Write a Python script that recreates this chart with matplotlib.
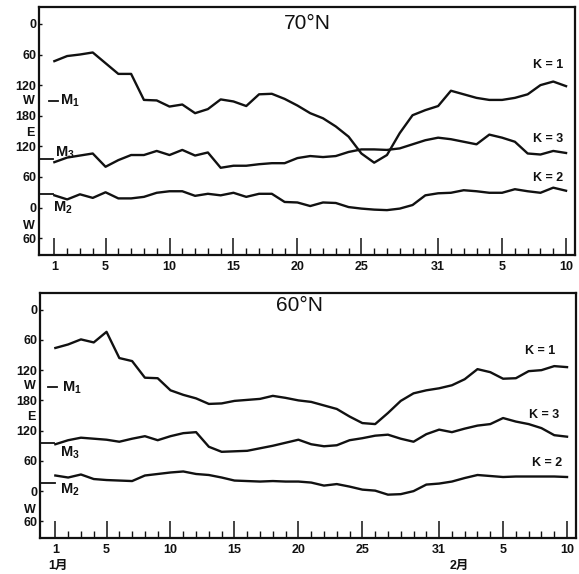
import matplotlib.pyplot as plt
from matplotlib.transforms import blended_transform_factory
import numpy as np

plt.rcParams['font.family'] = ['Liberation Sans', 'Noto Sans CJK JP']
plt.rcParams['mathtext.fontset'] = 'custom'
plt.rcParams['mathtext.rm'] = 'Liberation Sans'
plt.rcParams['mathtext.bf'] = 'Liberation Sans:bold'

# days: 1..31 = January, 32..41 = February 1..10
days = list(range(1, 42))

# longitude measured westward from Greenwich (0..420 deg), downward on the chart
n70_k1 = [73, 63, 60, 56, 77, 98, 98, 149, 150, 162, 158, 175, 167, 148, 152, 161, 138, 137, 147, 160,
          175, 185, 201, 221, 254, 272, 257, 214, 179, 169, 161, 131, 138, 145, 149, 149, 145, 138, 120, 113, 122]
n70_k3 = [271, 262, 258, 254, 280, 267, 257, 257, 249, 257, 247, 258, 252, 282, 278, 278, 275, 273, 273, 263,
          259, 261, 259, 251, 246, 246, 247, 244, 236, 228, 223, 226, 231, 236, 217, 223, 231, 254, 256, 249, 253]
n70_k2 = [336, 344, 334, 341, 330, 342, 342, 339, 331, 328, 328, 337, 333, 336, 331, 339, 333, 333, 349, 350,
          357, 350, 351, 359, 362, 364, 365, 362, 355, 336, 332, 331, 326, 328, 331, 331, 324, 328, 331, 321, 327]
n70_means = [152, 264, 334]

n60_k1 = [76, 69, 59, 65, 44, 96, 102, 135, 136, 160, 169, 176, 187, 186, 181, 179, 177, 171, 175, 180,
          183, 190, 197, 212, 225, 227, 205, 181, 166, 160, 156, 150, 138, 118, 124, 137, 136, 122, 120, 112, 114]
n60_k3 = [267, 259, 254, 256, 258, 262, 256, 251, 259, 251, 245, 243, 272, 282, 281, 280, 275, 270, 264, 258,
          267, 271, 269, 259, 255, 250, 248, 256, 262, 247, 238, 243, 236, 230, 227, 215, 222, 227, 235, 249, 252]
n60_k2 = [329, 333, 327, 336, 338, 339, 340, 329, 326, 323, 321, 326, 328, 333, 339, 340, 341, 340, 341, 341,
          343, 349, 346, 351, 357, 359, 367, 366, 360, 347, 345, 341, 334, 328, 330, 332, 331, 331, 331, 331, 332]
n60_means = [154, 264, 343]

ytick_vals = [0, 60, 120, 180, 240, 300, 360, 420]
ytick_labels = ['0', '60', '120', '180', '120', '60', '0', '60']
xtick_days = [1, 5, 10, 15, 20, 25, 31, 36, 41]
xtick_labels = ['1', '5', '10', '15', '20', '25', '31', '5', '10']

fig = plt.figure(figsize=(5.79, 5.74), dpi=100)
fig.patch.set_facecolor('white')

lc = '#111111'
tick_font = dict(fontsize=9, fontweight='bold', color=lc)


def draw_panel(ax, title, title_pos, series, means, mean_dash, mean_text, k_pos):
    for s in series:
        ax.plot(days, s, color=lc, lw=1.7, solid_joinstyle='round')

    ax.set_xlim(-0.2, 41.7)
    ax.set_ylim(453, -33)

    ax.set_xticks(xtick_days)
    ax.set_xticklabels(xtick_labels, **tick_font)
    ax.set_xticks(days, minor=True)
    ax.set_yticks(ytick_vals)
    ax.set_yticklabels(ytick_labels, **tick_font)
    ax.tick_params(axis='x', which='major', direction='in', length=12, width=1.1, pad=4, color=lc)
    ax.tick_params(axis='x', which='minor', direction='in', length=5, width=1.0, color=lc)
    ax.tick_params(axis='y', which='major', direction='in', length=2, width=1.0, pad=2, color=lc)
    for sp in ax.spines.values():
        sp.set_linewidth(1.6)
        sp.set_color(lc)

    trans = blended_transform_factory(ax.transAxes, ax.transData)
    # W / E markers on the longitude axis
    for txt, yv in [('W', 152), ('E', 213), ('W', 397)]:
        ax.text(-0.008, yv, txt, transform=trans, ha='right', va='center', **tick_font)

    # mean longitude dashes M1, M3, M2
    names = [r'$\mathbf{M_1}$', r'$\mathbf{M_3}$', r'$\mathbf{M_2}$']
    for m, (x0, x1), (tx, ty), name in zip(means, mean_dash, mean_text, names):
        ax.plot([x0, x1], [m, m], color=lc, lw=1.3, transform=trans, clip_on=False)
        ax.text(tx, ty, name, transform=trans, ha='left', va='center', fontsize=10.5, color=lc)

    for txt, (kx, ky) in zip(['K = 1', 'K = 3', 'K = 2'], k_pos):
        ax.text(kx, ky, txt, ha='center', va='center', fontsize=9, fontweight='bold', color=lc)

    ax.text(title_pos[0], title_pos[1], title, transform=ax.transAxes,
            ha='center', va='center', fontsize=15, color=lc)


ax1 = fig.add_axes([0.0674, 0.5557, 0.9257, 0.432])
draw_panel(ax1, '70°N', (0.50, 0.935), [n70_k1, n70_k3, n70_k2], n70_means,
           [(0.019, 0.035), (0.0, 0.026), (0.0, 0.026)],
           [(0.040, 151), (0.030, 253), (0.026, 361)],
           [(39.6, 80), (39.6, 226), (39.6, 302)])

ax2 = fig.add_axes([0.0691, 0.0627, 0.9257, 0.4268])
draw_panel(ax2, '60°N', (0.485, 0.951), [n60_k1, n60_k3, n60_k2], n60_means,
           [(0.015, 0.032), (0.0, 0.026), (0.0, 0.028)],
           [(0.041, 155), (0.037, 283), (0.037, 357)],
           [(38.9, 82), (39.2, 208), (39.4, 304)])

fig.text(58 / 579, 1 - 566 / 574, '1月', ha='center', va='center', fontsize=9, fontweight='bold', color=lc)
fig.text(459 / 579, 1 - 566 / 574, '2月', ha='center', va='center', fontsize=9, fontweight='bold', color=lc)

fig.savefig('out.png', dpi=100, facecolor='white')
